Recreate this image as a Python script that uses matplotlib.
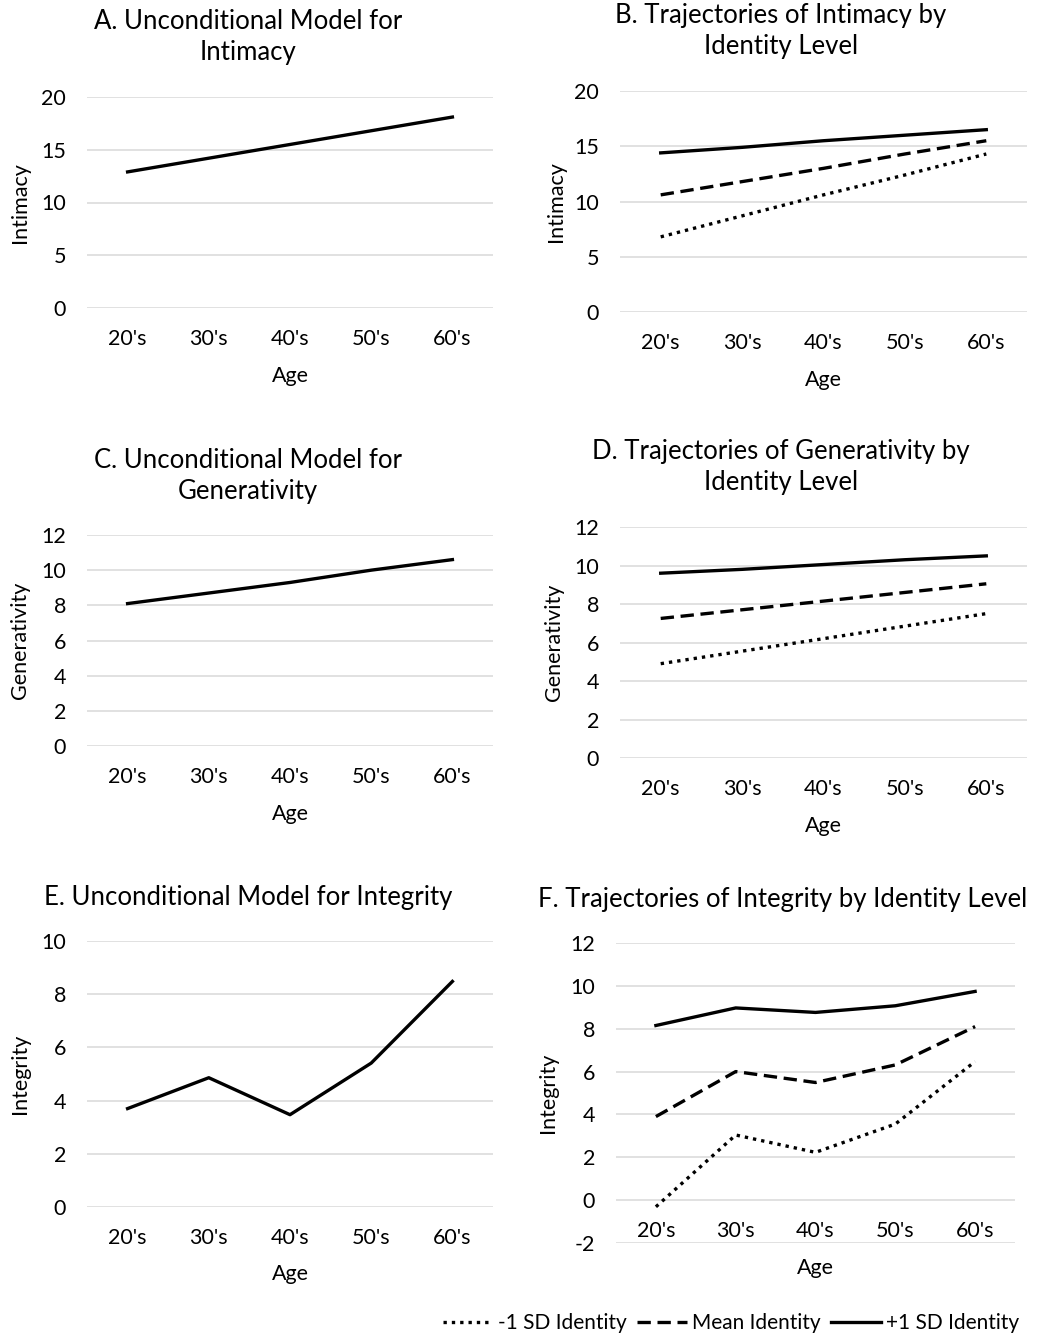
import matplotlib
matplotlib.use('Agg')
import matplotlib.pyplot as plt
from matplotlib.lines import Line2D

plt.rcParams['font.family'] = ['Lato', 'DejaVu Sans']
plt.rcParams['axes.unicode_minus'] = False

W, H = 1038, 1338

ages = ["20's", "30's", "40's", "50's", "60's"]

# panel A / C / E: unconditional models
intimacy = [12.9, 14.2, 15.5, 16.8, 18.1]
generativity = [8.1, 8.7, 9.3, 10.0, 10.6]
integrity = [3.7, 4.86, 3.47, 5.41, 8.48]

# panel B: intimacy by identity level
intimacy_low = [6.8, 8.7, 10.6, 12.4, 14.3]
intimacy_mean = [10.6, 11.8, 13.0, 14.3, 15.5]
intimacy_high = [14.4, 14.9, 15.5, 16.0, 16.5]

# panel D: generativity by identity level
generativity_low = [4.9, 5.55, 6.2, 6.85, 7.5]
generativity_mean = [7.25, 7.7, 8.15, 8.6, 9.05]
generativity_high = [9.6, 9.8, 10.05, 10.3, 10.5]

# panel F: integrity by identity level
integrity_low = [-0.31, 3.04, 2.23, 3.55, 6.47]
integrity_mean = [3.9, 6.0, 5.49, 6.31, 8.1]
integrity_high = [8.15, 8.97, 8.76, 9.07, 9.74]

legend_labels = ['-1 SD Identity', 'Mean Identity', '+1 SD Identity']

LW = 2.4
styles = [(0, (1, 1.5)), (0, (4, 2)), '-']
TICK_FS = 15.5
LABEL_FS = 15.5
TITLE_FS = 18.5

fig = plt.figure(figsize=(W / 100, H / 100), dpi=100)


def px_axes(left, top, right, bottom):
    return fig.add_axes([left / W, 1 - bottom / H, (right - left) / W, (bottom - top) / H])


def style_axes(ax, ylabel, ylim, step, title, title_cx, title_y):
    ax.set_xlim(-0.5, 4.5)
    ax.set_ylim(*ylim)
    ax.set_yticks(range(ylim[0], ylim[1] + 1, step))
    ax.set_xticks(range(len(ages)))
    ax.set_xticklabels(ages)
    ax.grid(axis='y', color='#d9d9d9', lw=1.1)
    ax.set_axisbelow(True)
    for s in ['top', 'right', 'left']:
        ax.spines[s].set_visible(False)
    # category labels sit on the zero line, like Excel
    ax.spines['bottom'].set_position(('data', 0))
    ax.spines['bottom'].set_visible(False)
    ax.tick_params(axis='both', length=0, labelsize=TICK_FS)
    ax.tick_params(axis='y', pad=15)
    ax.tick_params(axis='x', pad=15)
    ax.set_xlabel('Age', fontsize=LABEL_FS, labelpad=12)
    ax.set_ylabel(ylabel, fontsize=LABEL_FS)
    fig.text(title_cx / W, 1 - title_y / H, title, ha='center', va='center',
             fontsize=TITLE_FS, linespacing=1.3)


def ylab_pos(ax, left, right, x_edge):
    # x_edge is the right edge of the rotated label, in pixels
    ax.yaxis.set_label_coords((x_edge - left) / (right - left), 0.5)


x = range(len(ages))

# A
axA = px_axes(87, 97, 493, 308)
axA.plot(x, intimacy, color='black', lw=LW, ls='-')
style_axes(axA, 'Intimacy', (0, 20), 5, 'A. Unconditional Model for\nIntimacy', 248, 37)
ylab_pos(axA, 87, 493, 30)

# B
axB = px_axes(620, 91, 1027, 312)
for vals, ls in zip([intimacy_low, intimacy_mean, intimacy_high], styles):
    axB.plot(x, vals, color='black', lw=LW, ls=ls)
style_axes(axB, 'Intimacy', (0, 20), 5, 'B. Trajectories of Intimacy by\nIdentity Level', 781, 31)
ylab_pos(axB, 620, 1027, 566)

# C
axC = px_axes(87, 535, 493, 746)
axC.plot(x, generativity, color='black', lw=LW, ls='-')
style_axes(axC, 'Generativity', (0, 12), 2, 'C. Unconditional Model for\nGenerativity', 248, 476)
ylab_pos(axC, 87, 493, 30)

# D
axD = px_axes(620, 527, 1027, 758)
for vals, ls in zip([generativity_low, generativity_mean, generativity_high], styles):
    axD.plot(x, vals, color='black', lw=LW, ls=ls)
style_axes(axD, 'Generativity', (0, 12), 2, 'D. Trajectories of Generativity by\nIdentity Level', 781, 467)
ylab_pos(axD, 620, 1027, 564)

# E
axE = px_axes(87, 941, 493, 1207)
axE.plot(x, integrity, color='black', lw=LW, ls='-')
style_axes(axE, 'Integrity', (0, 10), 2, 'E. Unconditional Model for Integrity', 248, 898)
ylab_pos(axE, 87, 493, 30)

# F
axF = px_axes(616, 943, 1015, 1243)
for vals, ls in zip([integrity_low, integrity_mean, integrity_high], styles):
    axF.plot(x, vals, color='black', lw=LW, ls=ls)
style_axes(axF, 'Integrity', (-2, 12), 2, 'F. Trajectories of Integrity by Identity Level', 783, 900)
ylab_pos(axF, 616, 1015, 558)

handles = [Line2D([], [], color='black', lw=LW, ls=ls) for ls in styles]
fig.legend(handles, legend_labels, loc='center', bbox_to_anchor=(731 / W, 1 - 1323 / H),
           ncol=3, frameon=False, fontsize=15, handlelength=2.4,
           handletextpad=0.25, columnspacing=0.5)

fig.savefig('out.png', dpi=100, facecolor='white')
